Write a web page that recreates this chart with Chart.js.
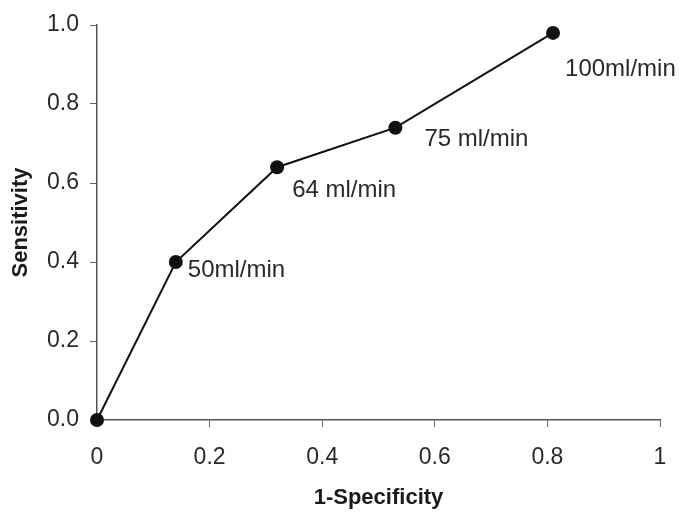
<!DOCTYPE html>
<html lang="en">
<head>
  <meta charset="UTF-8">
  <title>ROC curve</title>
  <script src="https://cdn.jsdelivr.net/npm/chart.js"></script>
  <style>
    html, body { margin: 0; padding: 0; background: #fff; }
    #wrap { width: 680px; height: 513px; }
  </style>
</head>
<body>
<div id="wrap"><canvas id="roc" width="680" height="513"></canvas></div>
<script>
  // Data
  const falsePositiveRate = [0, 0.14, 0.32, 0.53, 0.81];
  const sensitivity = [0, 0.40, 0.64, 0.74, 0.98];
  const pointLabels = ['', '50ml/min', '64 ml/min', '75 ml/min', '100ml/min'];
  const xTicks = [0, 0.2, 0.4, 0.6, 0.8, 1];
  const yTicks = [0, 0.2, 0.4, 0.6, 0.8, 1.0];

  // pixel offsets for each point label (style only)
  const labelOffsets = [[0, 0], [12, 8], [15, 23], [29, 12], [12, 36]];

  const FONT = 'Arial, "Liberation Sans", sans-serif';

  const pointLabelPlugin = {
    id: 'pointLabels',
    afterDatasetsDraw(chart) {
      const ctx = chart.ctx;
      const meta = chart.getDatasetMeta(0);
      ctx.save();
      ctx.font = '24px ' + FONT;
      ctx.fillStyle = '#2a2a2a';
      ctx.textAlign = 'left';
      ctx.textBaseline = 'middle';
      meta.data.forEach((pt, i) => {
        if (!pointLabels[i]) return;
        ctx.fillText(pointLabels[i], pt.x + labelOffsets[i][0], pt.y + labelOffsets[i][1]);
      });
      ctx.restore();
    }
  };

  new Chart(document.getElementById('roc'), {
    type: 'scatter',
    data: {
      datasets: [{
        data: falsePositiveRate.map((x, i) => ({ x: x, y: sensitivity[i] })),
        showLine: true,
        borderColor: '#111',
        borderWidth: 2,
        backgroundColor: '#111',
        pointRadius: 7,
        pointBorderWidth: 0,
        clip: false
      }]
    },
    options: {
      responsive: false,
      animation: false,
      layout: { padding: { top: 25, right: 20, left: 8, bottom: 2 } },
      plugins: { legend: { display: false }, tooltip: { enabled: false } },
      scales: {
        x: {
          type: 'linear',
          min: 0, max: 1,
          afterBuildTicks: s => { s.ticks = xTicks.map(v => ({ value: v })); },
          ticks: {
            color: '#2a2a2a', font: { family: FONT, size: 23 }, padding: 17,
            callback: v => String(v)
          },
          grid: { drawOnChartArea: false, tickLength: 7, color: '#666', tickWidth: 1 },
          border: { display: true, color: '#555', width: 1.5 },
          title: {
            display: true, text: '1-Specificity', color: '#1a1a1a',
            font: { family: FONT, size: 22, weight: 'bold' }, padding: { top: 0, bottom: 0 }
          },
          afterFit: s => { s.height = 91; s.paddingRight = 10; s.paddingLeft = 10; }
        },
        y: {
          type: 'linear',
          min: 0, max: 1,
          afterBuildTicks: s => { s.ticks = yTicks.map(v => ({ value: v })); },
          ticks: {
            color: '#2a2a2a', font: { family: FONT, size: 23 }, padding: 11,
            callback: v => Number(v).toFixed(1)
          },
          grid: { drawOnChartArea: false, tickLength: 7, color: '#666', tickWidth: 1 },
          border: { display: true, color: '#555', width: 1.5 },
          title: {
            display: true, text: 'Sensitivity', color: '#1a1a1a',
            font: { family: FONT, size: 22, weight: 'bold' }, padding: { top: 0, bottom: 0 }
          },
          afterFit: s => { s.width = 89; }
        }
      }
    },
    plugins: [pointLabelPlugin]
  });
</script>
</body>
</html>
